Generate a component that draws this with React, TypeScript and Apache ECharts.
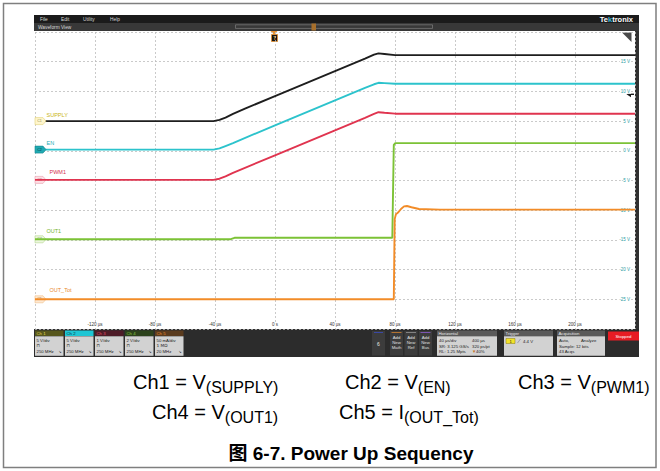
import React, { useEffect, useRef } from 'react';
import * as echarts from 'echarts';

// ---------- data ----------
const timeTicks = [-120, -80, -40, 0, 40, 80, 120, 160, 200];
const voltTicks = [15, 10, 5, 0, -5, -10, -15, -20, -25];

const supplyWave = [[-160, 5.0], [-41, 5.0], [-37, 5.2], [-33, 5.6], [-28, 6.2], [-20, 7.1], [0, 9.2], [20, 11.3], [40, 13.4], [60, 15.5], [66, 16.2], [69, 16.4], [73, 16.3], [80, 16.1], [240, 16.1]];
const enWave = [[-160, 0.2], [-41, 0.2], [-37, 0.4], [-33, 0.8], [-28, 1.3], [0, 4.3], [20, 6.4], [40, 8.5], [60, 10.6], [66, 11.2], [69, 11.45], [73, 11.4], [80, 11.3], [240, 11.3]];
const pwmWave = [[-160, -4.9], [-41, -4.9], [-37, -4.7], [-33, -4.3], [-28, -3.7], [0, -0.75], [20, 1.35], [40, 3.45], [60, 5.55], [66, 6.2], [69, 6.5], [73, 6.4], [80, 6.25], [240, 6.25]];
const out1Wave = [[-160, -14.9], [-30, -14.9], [-27, -14.65], [78.2, -14.65], [79.2, 1.0], [80.2, 1.3], [240, 1.3]];
const outTotWave = [[-160, -25.0], [79.2, -25.0], [79.8, -11.5], [80.6, -10.7], [82, -10.4], [84, -9.8], [86, -9.35], [88, -9.3], [91, -9.5], [96, -9.8], [110, -9.9], [240, -9.9]];

const channelNames = ['SUPPLY', 'EN', 'PWM1', 'OUT1', 'OUT_Tot'];
const badgeLabels = ['C1', 'C2', 'C3', 'C4', 'C5'];
const channelHeads = ['Ch 1', 'Ch 2', 'Ch 3', 'Ch 4', 'Ch 5'];
const channelLine1 = ['5 V/div', '5 V/div', '1 V/div', '2 V/div', '50 mA/div'];
const channelLine2 = ['⊓', '⊓', '⊓', '⊓', '1 MΩ'];
const channelLine3 = ['250 MHz', '250 MHz', '250 MHz', '250 MHz', '20 MHz'];

const menuItems = ['File', 'Edit', 'Utility', 'Help'];

// ---------- styles ----------
const FONT = 'Liberation Sans, Arial, sans-serif';
const traceColors = ['#1e1e1e', '#2cc3cc', '#e0344f', '#7cc236', '#f28c28'];
const nameColors = ['#c9b514', '#28aeb6', '#d4304c', '#74b42c', '#e8892c'];
const badgeFill = ['#fff6cc', '#1fa9b2', '#fde0e5', '#ecf6de', '#fde9d3'];
const badgeBorder = ['#e2d27a', '#168a92', '#eaa2b2', '#b4d890', '#f0c08a'];
const badgeText = ['#8a8a50', '#08383c', '#b06070', '#6a8a4a', '#b07a40'];
const nameOffsets = [[11, -6], [11, -6.6], [14, -8.2], [11, -8], [14, -9]];
const headFill = ['#56561c', '#1ec6d4', '#4e1c28', '#2c421c', '#5a3b1e'];
const headText = ['#e4dc5a', '#0a3238', '#e2506c', '#8ccc42', '#f0922e'];
const waves = [supplyWave, enWave, pwmWave, out1Wave, outTotWave];

function buildGraphics(): any[] {
  const g: any[] = [];
  // outer frame
  g.push({ type: 'rect', shape: { x: 3.5, y: 3.5, width: 652.5, height: 464 }, style: { fill: 'none', stroke: '#7f7f7f', lineWidth: 1.5 }, silent: true });
  // menu bar
  g.push({ type: 'rect', shape: { x: 34, y: 15, width: 605, height: 8 }, style: { fill: '#1b1b1b' } });
  const menuX = [40, 61, 83, 110];
  menuItems.forEach((m, i) => g.push({ type: 'text', style: { x: menuX[i], y: 19, text: m, fill: '#d8d8d8', fontSize: 4.8, fontFamily: FONT, verticalAlign: 'middle' } }));
  g.push({ type: 'text', style: { x: 633, y: 19, text: '{a|Te}{b|k}{a|tronix}', align: 'right', verticalAlign: 'middle', rich: { a: { fill: '#ffffff', fontSize: 7.5, fontWeight: 'bold', fontFamily: FONT }, b: { fill: '#35b9d8', fontSize: 7.5, fontWeight: 'bold', fontFamily: FONT } } } });
  // waveform view bar
  g.push({ type: 'rect', shape: { x: 34, y: 23, width: 605, height: 8 }, style: { fill: '#383838' } });
  g.push({ type: 'text', style: { x: 38, y: 27, text: 'Waveform View', fill: '#d8d8d8', fontSize: 4.8, fontFamily: FONT, verticalAlign: 'middle' } });
  g.push({ type: 'rect', shape: { x: 235.5, y: 24.8, width: 197, height: 3.6 }, style: { fill: 'none', stroke: '#8a8a8a', lineWidth: 0.6 } });
  g.push({ type: 'rect', shape: { x: 311.5, y: 23.5, width: 4.5, height: 7 }, style: { fill: '#a8702c' } });
  // right strip
  g.push({ type: 'rect', shape: { x: 635, y: 31, width: 4, height: 298 }, style: { fill: '#303030' } });
  // corner triangle
  g.push({ type: 'polygon', shape: { points: [[622, 32.5], [631.5, 32.5], [631.5, 42]] }, style: { fill: '#4a4a4a' } });
  // trigger T marker
  g.push({ type: 'polygon', shape: { points: [[270.5, 31], [277.5, 31], [274, 34.5]] }, style: { fill: '#e8902c' } });
  g.push({ type: 'rect', shape: { x: 271.5, y: 34.5, width: 6, height: 7 }, style: { fill: '#151515', stroke: '#e8902c', lineWidth: 0.8 } });
  g.push({ type: 'text', style: { x: 274.5, y: 38.2, text: 'T', fill: '#f0a040', fontSize: 4.5, fontWeight: 'bold', fontFamily: FONT, align: 'center', verticalAlign: 'middle' } });
  // trigger level arrow
  g.push({ type: 'polygon', shape: { points: [[626.5, 94.3], [631, 91.3], [631, 97.3]] }, style: { fill: '#1a1a1a' } });
  g.push({ type: 'rect', shape: { x: 630.5, y: 93.6, width: 3.5, height: 1.4 }, style: { fill: '#1a1a1a' } });

  // bottom panel
  g.push({ type: 'rect', shape: { x: 34, y: 329, width: 605, height: 28 }, style: { fill: '#2c2c2c' } });
  channelHeads.forEach((h, i) => {
    const x0 = 35 + i * 30;
    g.push({ type: 'rect', shape: { x: x0, y: 330.5, width: 28.5, height: 5.5 }, style: { fill: headFill[i] } });
    g.push({ type: 'text', style: { x: x0 + 1.5, y: 333.3, text: h, fill: headText[i], fontSize: 4.3, fontFamily: FONT, verticalAlign: 'middle' } });
    g.push({ type: 'rect', shape: { x: x0, y: 336.3, width: 28.5, height: 19.5 }, style: { fill: '#d2d2d2' } });
    g.push({ type: 'text', style: { x: x0 + 1.5, y: 340, text: channelLine1[i], fill: '#222', fontSize: 4.3, fontFamily: FONT, verticalAlign: 'middle' } });
    g.push({ type: 'text', style: { x: x0 + 1.5, y: 345.5, text: channelLine2[i], fill: '#222', fontSize: 4.3, fontFamily: 'DejaVu Sans, ' + FONT, verticalAlign: 'middle' } });
    g.push({ type: 'text', style: { x: x0 + 1.5, y: 351.2, text: channelLine3[i], fill: '#222', fontSize: 4.3, fontFamily: FONT, verticalAlign: 'middle' } });
    g.push({ type: 'text', style: { x: x0 + 26.5, y: 351.2, text: '↘', fill: '#333', fontSize: 4, fontFamily: 'DejaVu Sans', align: 'right', verticalAlign: 'middle' } });
  });
  // "6" box and Add New boxes
  g.push({ type: 'rect', shape: { x: 372, y: 331, width: 13, height: 24.5 }, style: { fill: '#3c3c3c' } });
  g.push({ type: 'rect', shape: { x: 374, y: 332, width: 9, height: 0.9 }, style: { fill: '#3a4ab0' } });
  g.push({ type: 'text', style: { x: 378.5, y: 344, text: '6', fill: '#e8e8e8', fontSize: 5, fontFamily: FONT, align: 'center', verticalAlign: 'middle' } });
  const addNames = ['Math', 'Ref', 'Bus'];
  const addColors = ['#c07a30', '#8a8a8a', '#8458c0'];
  addNames.forEach((n, i) => {
    const x0 = 390 + i * 14.5;
    g.push({ type: 'rect', shape: { x: x0, y: 331, width: 13, height: 24.5 }, style: { fill: '#3c3c3c' } });
    g.push({ type: 'rect', shape: { x: x0 + 1.5, y: 332, width: 10, height: 0.9 }, style: { fill: addColors[i] } });
    ['Add', 'New', n].forEach((t, j) => g.push({ type: 'text', style: { x: x0 + 6.5, y: 337 + j * 5, text: t, fill: '#e0e0e0', fontSize: 4.3, fontFamily: FONT, align: 'center', verticalAlign: 'middle' } }));
  });
  // Horizontal panel
  const panel = (x0: number, w: number, title: string) => {
    g.push({ type: 'rect', shape: { x: x0, y: 330.5, width: w, height: 5.5 }, style: { fill: '#5a5a5a' } });
    g.push({ type: 'text', style: { x: x0 + 1.5, y: 333.3, text: title, fill: '#e8e8e8', fontSize: 4.3, fontFamily: FONT, verticalAlign: 'middle' } });
    g.push({ type: 'rect', shape: { x: x0, y: 336.3, width: w, height: 19.5 }, style: { fill: '#d2d2d2' } });
  };
  const txt = (x: number, y: number, t: string, c = '#222') => g.push({ type: 'text', style: { x, y, text: t, fill: c, fontSize: 4.3, fontFamily: FONT, verticalAlign: 'middle' } });
  panel(437, 60, 'Horizontal');
  txt(439, 340.5, '40 µs/div'); txt(472, 340.5, '400 µs');
  txt(439, 346, 'SR: 3.125 GS/s'); txt(472, 346, '320 ps/pt');
  txt(439, 351.5, 'RL: 1.25 Mpts'); txt(472, 351.5, '▼', '#c87020'); txt(476, 351.5, '40%');
  panel(504, 49, 'Trigger');
  g.push({ type: 'rect', shape: { x: 506, y: 338.5, width: 9, height: 5 }, style: { fill: '#f2e22a', stroke: '#8a7a10', lineWidth: 0.5 } });
  g.push({ type: 'text', style: { x: 510.5, y: 341, text: '1', fill: '#222', fontSize: 4, fontFamily: FONT, align: 'center', verticalAlign: 'middle' } });
  g.push({ type: 'line', shape: { x1: 517.5, y1: 343, x2: 520.5, y2: 339 }, style: { stroke: '#7a7a9a', lineWidth: 0.6 } });
  txt(523, 341, '4.4 V');
  panel(557, 48, 'Acquisition');
  txt(559, 340.5, 'Auto,'); txt(581, 340.5, 'Analyze');
  txt(559, 346, 'Sample: 12 bits');
  txt(559, 351.5, '43 Acqs');
  g.push({ type: 'rect', shape: { x: 608, y: 331.5, width: 31, height: 9 }, style: { fill: '#e81c24' } });
  g.push({ type: 'text', style: { x: 623.5, y: 336, text: 'Stopped', fill: '#ffffff', fontSize: 4.3, fontFamily: FONT, align: 'center', verticalAlign: 'middle' } });

  // captions
  const rich = {
    m: { fontSize: 20, lineHeight: 21, fill: '#000', fontFamily: FONT },
    s: { fontSize: 16, lineHeight: 16, padding: [10, 0, 0, 0], fill: '#000', fontFamily: FONT },
  };
  const cap = (x: number, y: number, main: string, sub: string) => g.push({ type: 'text', style: { x, y, text: `{m|${main}}{s|${sub}}`, rich, verticalAlign: 'middle', align: 'left' } });
  cap(133, 382, 'Ch1 = V', '(SUPPLY)');
  cap(345, 382, 'Ch2 = V', '(EN)');
  cap(518, 382, 'Ch3 = V', '(PWM1)');
  cap(152, 412, 'Ch4 = V', '(OUT1)');
  cap(339, 412, 'Ch5 = I', '(OUT_Tot)');
  g.push({ type: 'text', style: { x: 351, y: 453, text: '图 6-7. Power Up Sequency', fill: '#000', fontSize: 19, fontWeight: 'bold', fontFamily: 'Liberation Sans, Noto Sans CJK SC, sans-serif', align: 'center', verticalAlign: 'middle' } });
  return g;
}

export default function App() {
  const ref = useRef<HTMLDivElement>(null);
  useEffect(() => {
    if (!ref.current) return;
    const chart = echarts.init(ref.current, undefined, { renderer: 'svg' });
    const series = waves.map((w, i) => ({
      type: 'line',
      name: channelNames[i],
      data: w,
      showSymbol: false,
      symbol: 'none',
      lineStyle: { color: traceColors[i], width: 1.9 },
      itemStyle: { color: traceColors[i] },
      z: 3 + i,
      markPoint: {
        silent: true,
        animation: false,
        data: [
          {
            coord: [-160, w[0][1]],
            symbol: 'path://M0,0 L8,0 L11,3.5 L8,7 L0,7 Z',
            symbolSize: [11, 7],
            symbolOffset: [5.5, 0],
            itemStyle: { color: badgeFill[i], borderColor: badgeBorder[i], borderWidth: 0.6 },
            label: { show: true, formatter: badgeLabels[i], fontSize: 3.6, color: badgeText[i], position: 'inside', fontFamily: FONT, offset: [-1, 0] },
          },
          {
            coord: [-160, w[0][1]],
            symbol: 'circle',
            symbolSize: 1,
            itemStyle: { color: 'rgba(255,255,255,0)', borderWidth: 0 },
            label: { show: true, formatter: channelNames[i], position: 'right', distance: 0, offset: nameOffsets[i], fontSize: 5.5, color: nameColors[i], fontFamily: FONT, opacity: 1 },
          },
        ],
      },
    }));
    chart.setOption({
      animation: false,
      backgroundColor: '#ffffff',
      grid: { left: 35, top: 32, width: 600, height: 297, containLabel: false },
      xAxis: {
        type: 'value', min: -160, max: 240, interval: 40,
        axisLine: { show: false }, axisTick: { show: false },
        splitLine: { show: true, lineStyle: { color: '#bdbdbd', type: [2, 2], width: 0.8 } },
        axisLabel: {
          inside: true, margin: 2, fontSize: 4.5, color: '#333', fontFamily: FONT,
          backgroundColor: '#ffffff', padding: [0, 1],
          formatter: (v: number) => (timeTicks.includes(v) ? (v === 0 ? '0 s' : `${v} µs`) : ''),
        },
      },
      yAxis: {
        type: 'value', min: -30, max: 20, interval: 5, position: 'right',
        axisLine: { show: false }, axisTick: { show: false },
        splitLine: { show: true, lineStyle: { color: '#bdbdbd', type: [2, 2], width: 0.8 } },
        axisLabel: {
          inside: true, margin: 4, fontSize: 4.5, color: '#2a9ca2', fontFamily: FONT,
          backgroundColor: '#ffffff', padding: [0, 1],
          formatter: (v: number) => (voltTicks.includes(v) ? `${v} V` : ''),
        },
      },
      series,
      graphic: buildGraphics(),
    });
    return () => chart.dispose();
  }, []);
  return <div ref={ref} style={{ position: 'fixed', left: 0, top: 0, width: 660, height: 471, background: '#fff' }} />;
}
